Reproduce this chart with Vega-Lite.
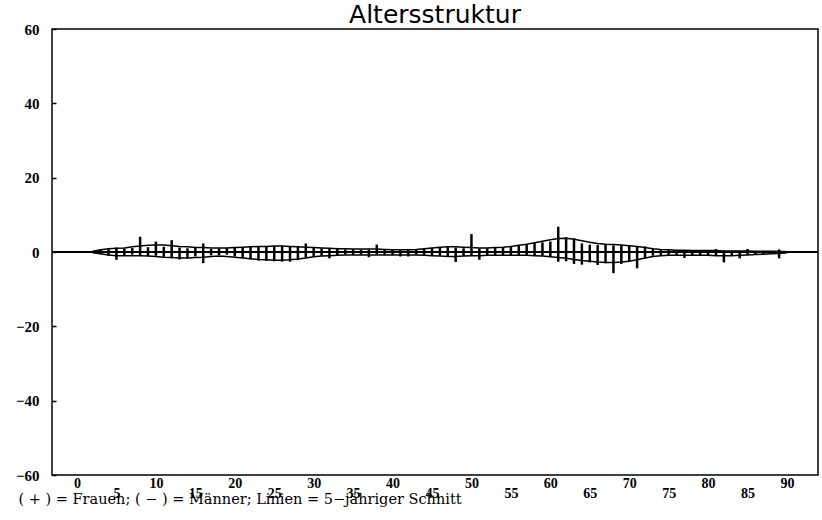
{
  "$schema": "https://vega.github.io/schema/vega-lite/v6.json",
  "width": 766,
  "height": 446,
  "autosize": {"type": "none"},
  "padding": {"left": 52, "top": 29, "right": 4, "bottom": 45},
  "background": "white",
  "title": {
    "text": "Altersstruktur",
    "font": "DejaVu Sans",
    "fontSize": 25,
    "fontWeight": "normal",
    "color": "black",
    "anchor": "middle",
    "frame": "group",
    "offset": 0,
    "baseline": "bottom",
    "dy": 31
  },
  "config": {
    "view": {"stroke": "black", "strokeWidth": 1.5},
    "axis": {"grid": false, "domain": false}
  },
  "data": {
    "values": [
      {"age": 2, "f": 0.3, "m": -0.3, "fa": 0.2, "ma": -0.2},
      {"age": 3, "f": 0.8, "m": -0.6, "fa": 0.6, "ma": -0.5},
      {"age": 4, "f": 1.0, "m": -1.0, "fa": 0.9, "ma": -0.8},
      {"age": 5, "f": 1.2, "m": -2.1, "fa": 1.0, "ma": -1.0},
      {"age": 6, "f": 1.0, "m": -0.8, "fa": 1.1, "ma": -1.0},
      {"age": 7, "f": 1.1, "m": -0.7, "fa": 1.4, "ma": -1.0},
      {"age": 8, "f": 4.1, "m": -0.9, "fa": 1.6, "ma": -1.0},
      {"age": 9, "f": 1.3, "m": -1.1, "fa": 1.8, "ma": -1.1},
      {"age": 10, "f": 2.8, "m": -1.0, "fa": 1.9, "ma": -1.2},
      {"age": 11, "f": 1.4, "m": -1.3, "fa": 1.9, "ma": -1.4},
      {"age": 12, "f": 3.2, "m": -1.7, "fa": 1.7, "ma": -1.5},
      {"age": 13, "f": 1.2, "m": -2.0, "fa": 1.5, "ma": -1.6},
      {"age": 14, "f": 1.0, "m": -1.7, "fa": 1.4, "ma": -1.6},
      {"age": 15, "f": 1.1, "m": -1.2, "fa": 1.2, "ma": -1.5},
      {"age": 16, "f": 2.3, "m": -3.0, "fa": 1.2, "ma": -1.4},
      {"age": 17, "f": 0.8, "m": -0.9, "fa": 1.1, "ma": -1.2},
      {"age": 18, "f": 1.0, "m": -0.8, "fa": 1.1, "ma": -1.1},
      {"age": 19, "f": 1.1, "m": -0.7, "fa": 1.1, "ma": -1.2},
      {"age": 20, "f": 1.2, "m": -1.2, "fa": 1.2, "ma": -1.4},
      {"age": 21, "f": 1.3, "m": -1.6, "fa": 1.3, "ma": -1.6},
      {"age": 22, "f": 1.4, "m": -2.0, "fa": 1.4, "ma": -1.8},
      {"age": 23, "f": 1.5, "m": -2.3, "fa": 1.5, "ma": -2.0},
      {"age": 24, "f": 1.6, "m": -2.4, "fa": 1.5, "ma": -2.1},
      {"age": 25, "f": 1.7, "m": -2.5, "fa": 1.6, "ma": -2.2},
      {"age": 26, "f": 1.7, "m": -2.6, "fa": 1.6, "ma": -2.2},
      {"age": 27, "f": 1.6, "m": -2.6, "fa": 1.5, "ma": -2.1},
      {"age": 28, "f": 1.4, "m": -2.2, "fa": 1.4, "ma": -1.9},
      {"age": 29, "f": 2.3, "m": -1.4, "fa": 1.3, "ma": -1.6},
      {"age": 30, "f": 1.1, "m": -1.1, "fa": 1.2, "ma": -1.3},
      {"age": 31, "f": 1.0, "m": -1.0, "fa": 1.1, "ma": -1.1},
      {"age": 32, "f": 0.9, "m": -1.7, "fa": 1.0, "ma": -1.0},
      {"age": 33, "f": 1.1, "m": -0.8, "fa": 0.9, "ma": -0.9},
      {"age": 34, "f": 0.7, "m": -0.7, "fa": 0.9, "ma": -0.8},
      {"age": 35, "f": 0.8, "m": -0.8, "fa": 0.8, "ma": -0.8},
      {"age": 36, "f": 0.6, "m": -0.7, "fa": 0.8, "ma": -0.8},
      {"age": 37, "f": 0.7, "m": -1.4, "fa": 0.8, "ma": -0.8},
      {"age": 38, "f": 2.0, "m": -0.6, "fa": 0.8, "ma": -0.8},
      {"age": 39, "f": 0.8, "m": -0.7, "fa": 0.7, "ma": -0.8},
      {"age": 40, "f": 0.6, "m": -0.8, "fa": 0.6, "ma": -0.8},
      {"age": 41, "f": 0.5, "m": -1.2, "fa": 0.6, "ma": -0.8},
      {"age": 42, "f": 0.6, "m": -1.2, "fa": 0.6, "ma": -0.8},
      {"age": 43, "f": 0.7, "m": -0.7, "fa": 0.7, "ma": -0.8},
      {"age": 44, "f": 0.8, "m": -0.8, "fa": 0.9, "ma": -0.9},
      {"age": 45, "f": 1.1, "m": -0.9, "fa": 1.1, "ma": -1.0},
      {"age": 46, "f": 1.3, "m": -1.0, "fa": 1.3, "ma": -1.1},
      {"age": 47, "f": 1.4, "m": -1.1, "fa": 1.4, "ma": -1.2},
      {"age": 48, "f": 1.2, "m": -2.7, "fa": 1.4, "ma": -1.2},
      {"age": 49, "f": 1.0, "m": -1.0, "fa": 1.3, "ma": -1.1},
      {"age": 50, "f": 4.8, "m": -0.8, "fa": 1.2, "ma": -1.0},
      {"age": 51, "f": 1.0, "m": -2.1, "fa": 1.1, "ma": -1.0},
      {"age": 52, "f": 1.0, "m": -0.9, "fa": 1.1, "ma": -0.9},
      {"age": 53, "f": 1.2, "m": -0.8, "fa": 1.2, "ma": -0.9},
      {"age": 54, "f": 1.3, "m": -0.9, "fa": 1.3, "ma": -0.9},
      {"age": 55, "f": 1.5, "m": -0.8, "fa": 1.5, "ma": -0.9},
      {"age": 56, "f": 1.8, "m": -0.9, "fa": 1.8, "ma": -0.9},
      {"age": 57, "f": 2.0, "m": -0.8, "fa": 2.1, "ma": -0.9},
      {"age": 58, "f": 2.4, "m": -0.9, "fa": 2.5, "ma": -1.0},
      {"age": 59, "f": 2.6, "m": -1.0, "fa": 2.9, "ma": -1.1},
      {"age": 60, "f": 2.8, "m": -1.1, "fa": 3.3, "ma": -1.3},
      {"age": 61, "f": 6.8, "m": -2.6, "fa": 3.6, "ma": -1.5},
      {"age": 62, "f": 4.0, "m": -2.5, "fa": 3.7, "ma": -1.7},
      {"age": 63, "f": 3.7, "m": -3.2, "fa": 3.4, "ma": -2.0},
      {"age": 64, "f": 2.3, "m": -3.4, "fa": 3.0, "ma": -2.3},
      {"age": 65, "f": 2.0, "m": -2.8, "fa": 2.6, "ma": -2.5},
      {"age": 66, "f": 1.9, "m": -3.5, "fa": 2.3, "ma": -2.7},
      {"age": 67, "f": 2.0, "m": -3.0, "fa": 2.1, "ma": -2.8},
      {"age": 68, "f": 1.8, "m": -5.7, "fa": 2.0, "ma": -2.8},
      {"age": 69, "f": 1.9, "m": -3.2, "fa": 1.9, "ma": -2.7},
      {"age": 70, "f": 1.7, "m": -2.6, "fa": 1.7, "ma": -2.5},
      {"age": 71, "f": 1.6, "m": -4.4, "fa": 1.5, "ma": -2.1},
      {"age": 72, "f": 1.5, "m": -1.8, "fa": 1.2, "ma": -1.6},
      {"age": 73, "f": 1.0, "m": -1.0, "fa": 0.9, "ma": -1.2},
      {"age": 74, "f": 0.6, "m": -0.8, "fa": 0.7, "ma": -1.0},
      {"age": 75, "f": 0.5, "m": -0.8, "fa": 0.6, "ma": -0.9},
      {"age": 76, "f": 0.5, "m": -1.0, "fa": 0.5, "ma": -0.9},
      {"age": 77, "f": 0.4, "m": -1.6, "fa": 0.5, "ma": -0.9},
      {"age": 78, "f": 0.5, "m": -0.8, "fa": 0.4, "ma": -0.9},
      {"age": 79, "f": 0.4, "m": -0.9, "fa": 0.4, "ma": -0.9},
      {"age": 80, "f": 0.4, "m": -1.0, "fa": 0.4, "ma": -0.9},
      {"age": 81, "f": 0.8, "m": -0.9, "fa": 0.4, "ma": -1.0},
      {"age": 82, "f": 0.3, "m": -2.8, "fa": 0.3, "ma": -1.0},
      {"age": 83, "f": 0.3, "m": -1.0, "fa": 0.3, "ma": -1.0},
      {"age": 84, "f": 0.3, "m": -1.7, "fa": 0.3, "ma": -0.9},
      {"age": 85, "f": 0.8, "m": -0.7, "fa": 0.3, "ma": -0.8},
      {"age": 86, "f": 0.2, "m": -0.6, "fa": 0.2, "ma": -0.7},
      {"age": 87, "f": 0.2, "m": -0.6, "fa": 0.2, "ma": -0.6},
      {"age": 88, "f": 0.2, "m": -0.5, "fa": 0.2, "ma": -0.5},
      {"age": 89, "f": 0.7, "m": -1.7, "fa": 0.2, "ma": -0.4},
      {"age": 90, "f": 0.1, "m": -0.3, "fa": 0.1, "ma": -0.2}
    ]
  },
  "layer": [
    {
      "mark": {"type": "rule", "color": "black", "strokeWidth": 2.5},
      "encoding": {
        "x": {
          "field": "age",
          "type": "quantitative",
          "scale": {"domain": [-3.17, 93.93], "nice": false, "zero": false},
          "axis": {
            "values": [0, 5, 10, 15, 20, 25, 30, 35, 40, 45, 50, 55, 60, 65, 70, 75, 80, 85, 90],
            "ticks": false,
            "labelFont": "Liberation Serif",
            "labelFontWeight": "bold",
            "labelFontSize": 14,
            "labelColor": "black",
            "labelPadding": {"condition": {"test": "datum.value % 10 != 0", "value": 11}, "value": 1},
            "labelFlush": false,
            "labelOverlap": false,
            "title": "( + ) = Frauen; ( − ) = Männer; Linien = 5−jähriger Schnitt",
            "titleFont": "DejaVu Serif",
            "titleFontWeight": "normal",
            "titleFontSize": 14.5,
            "titleColor": "black",
            "titleAlign": "left",
            "titleAnchor": "start",
            "titleBaseline": "alphabetic",
            "titleX": -34,
            "titleY": 28
          }
        },
        "y": {
          "field": "f",
          "type": "quantitative",
          "scale": {"domain": [-60, 60], "nice": false},
          "axis": {
            "values": [-60, -40, -20, 0, 20, 40, 60],
            "title": null,
            "ticks": true,
            "tickSize": -4,
            "tickColor": "black",
            "tickWidth": 1.5,
            "labelPadding": 17,
            "labelFont": "Liberation Serif",
            "labelFontWeight": "bold",
            "labelFontSize": 15,
            "labelColor": "black"
          }
        },
        "y2": {"datum": 0}
      }
    },
    {
      "mark": {"type": "rule", "color": "black", "strokeWidth": 2.5},
      "encoding": {
        "x": {"field": "age", "type": "quantitative"},
        "y": {"field": "m", "type": "quantitative"},
        "y2": {"datum": 0}
      }
    },
    {
      "mark": {"type": "line", "color": "black", "strokeWidth": 1.5},
      "encoding": {
        "x": {"field": "age", "type": "quantitative"},
        "y": {"field": "fa", "type": "quantitative"}
      }
    },
    {
      "mark": {"type": "line", "color": "black", "strokeWidth": 1.5},
      "encoding": {
        "x": {"field": "age", "type": "quantitative"},
        "y": {"field": "ma", "type": "quantitative"}
      }
    },
    {
      "mark": {"type": "rule", "color": "black", "strokeWidth": 2},
      "encoding": {"y": {"datum": 0}}
    }
  ]
}
